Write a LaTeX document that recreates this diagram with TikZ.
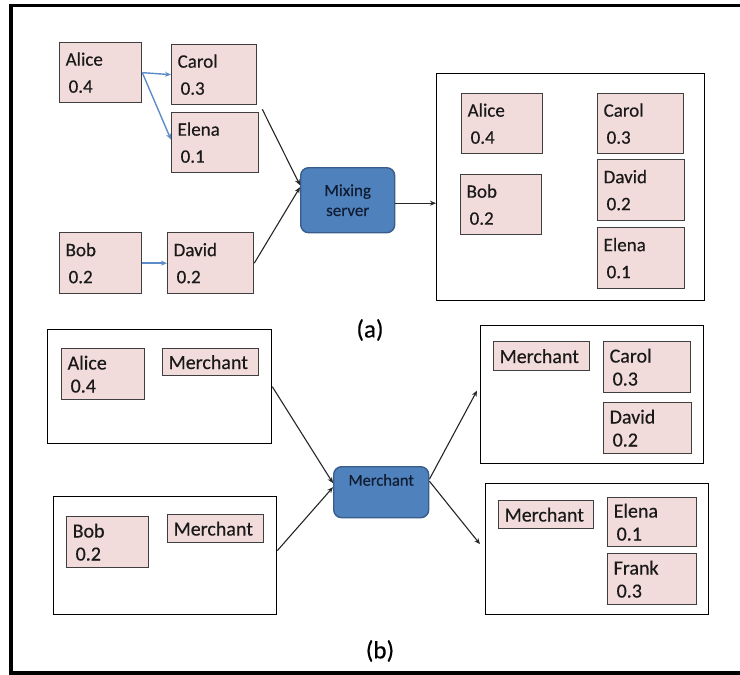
\documentclass[tikz,border=0pt]{standalone}
\usepackage{fontspec}
\setmainfont{Carlito}[FakeBold=0.35]
\usetikzlibrary{arrows.meta}
\definecolor{pinkfill}{HTML}{F2DCDB}
\definecolor{boxline}{HTML}{3F3F3F}
\definecolor{bluefill}{HTML}{4F81BD}
\definecolor{blueline}{HTML}{385D8A}
\definecolor{bluearrow}{HTML}{5B8CC8}
\definecolor{bluetext}{HTML}{111D33}
\begin{document}
\begin{tikzpicture}[x=1pt,y=-1pt,
  pb/.style={draw=boxline, fill=pinkfill, line width=1.3pt, anchor=north west,
    align=left, inner xsep=6pt, inner ysep=0pt, text=black!90},
  topfont/.style={font=\fontsize{19}{27}\selectfont},
  botfont/.style={font=\fontsize{20}{23}\selectfont},
  cont/.style={draw=black, line width=1.3pt, anchor=north west, inner sep=0pt},
  srv/.style={draw=blueline, fill=bluefill, line width=1.4pt, rounded corners=8pt,
    anchor=north west, align=center, inner sep=0pt, text=bluetext},
  barrow/.style={draw=black!85, line width=1.1pt, -{Stealth[length=6pt,width=5pt]}},
  blarrow/.style={draw=bluearrow, line width=1.4pt, -{Stealth[length=6pt,width=5pt]}},
  lab/.style={font=\fontsize{25}{28}\selectfont, text=black}]
\useasboundingbox (0,0) rectangle (740,675);
% outer frame (open on the right)
\draw[line width=3.5pt] (740,5.5) -- (11,5.5) -- (11,673) -- (740,673);

% ---------- (a) ----------
\node[pb, topfont, text width=70pt, minimum height=60pt] (alice) at (59,42) {Alice\\\hspace*{3pt}0.4};
\node[pb, topfont, text width=73pt, minimum height=60pt] (carol) at (171,44) {Carol\\\hspace*{3pt}0.3};
\node[pb, topfont, text width=75pt, minimum height=60pt] (elena) at (171,112) {Elena\\\hspace*{3pt}0.1};
\node[pb, topfont, text width=70pt, minimum height=61pt] (bob) at (59,232) {Bob\\\hspace*{3pt}0.2};
\node[pb, topfont, text width=74pt, minimum height=61pt] (david) at (167,232) {David\\\hspace*{3pt}0.2};
\node[srv, minimum width=94pt, minimum height=65pt, font=\fontsize{17}{20}\selectfont] (mix) at (300,167) {Mixing\\server};
\node[cont, minimum width=268pt, minimum height=227pt] (out) at (436,73) {};
\node[pb, topfont, text width=69pt, minimum height=60pt] (oalice) at (461,93) {Alice\\\hspace*{3pt}0.4};
\node[pb, topfont, text width=69pt, minimum height=60pt] (obob) at (460,174) {Bob\\\hspace*{3pt}0.2};
\node[pb, topfont, text width=74pt, minimum height=60pt] (ocarol) at (597,93) {Carol\\\hspace*{3pt}0.3};
\node[pb, topfont, text width=75pt, minimum height=61pt] (odavid) at (597,159) {David\\\hspace*{3pt}0.2};
\node[pb, topfont, text width=75pt, minimum height=61pt] (oelena) at (597,227) {Elena\\\hspace*{3pt}0.1};
\node[lab] (la) at (370,330) {(a)};

\draw[blarrow] (alice.east) -- (carol.west);
\draw[blarrow] (alice.east) -- ([yshift=3pt]elena.west);
\draw[blarrow] (bob.east) -- (david.west);
\draw[barrow] ([xshift=5pt,yshift=-4pt]carol.south east) -- ([yshift=15pt]mix.west);
\draw[barrow] (david.east) -- ([yshift=13pt]mix.west);
\draw[barrow] ([yshift=-3pt]mix.east) -- ([yshift=-3pt]mix.east -| out.west);

% ---------- (b) ----------
\node[cont, minimum width=224pt, minimum height=114pt] (b1) at (47,329) {};
\node[pb, botfont, text width=71pt, minimum height=51pt] (b1alice) at (61,348) {Alice\\\hspace*{3pt}0.4};
\node[pb, botfont, text width=84pt, minimum height=27pt] (b1merch) at (162,348) {Merchant};
\node[cont, minimum width=223pt, minimum height=118pt] (b2) at (53,496) {};
\node[pb, botfont, text width=70pt, minimum height=51pt] (b2bob) at (66,516) {Bob\\\hspace*{3pt}0.2};
\node[pb, botfont, text width=84pt, minimum height=28pt] (b2merch) at (167,514) {Merchant};
\node[srv, minimum width=95pt, text height=19pt, text depth=32pt, font=\fontsize{16.5}{19}\selectfont] (merch) at (333,466) {Merchant};
\node[cont, minimum width=223pt, minimum height=138pt] (b3) at (480,325) {};
\node[pb, botfont, text width=84pt, minimum height=29pt] (b3merch) at (493,341) {Merchant};
\node[pb, botfont, text width=75pt, minimum height=51pt] (b3carol) at (603,341) {Carol\\\hspace*{3pt}0.3};
\node[pb, botfont, text width=76pt, minimum height=51pt] (b3david) at (603,402) {David\\\hspace*{3pt}0.2};
\node[cont, minimum width=223pt, minimum height=131pt] (b4) at (485,483) {};
\node[pb, botfont, text width=83pt, minimum height=28pt] (b4merch) at (498,500) {Merchant};
\node[pb, botfont, text width=77pt, minimum height=49pt] (b4elena) at (607,497) {Elena\\\hspace*{3pt}0.1};
\node[pb, botfont, text width=77pt, minimum height=51pt] (b4frank) at (607,553) {Frank\\\hspace*{3pt}0.3};
\node[lab] (lb) at (380,651) {(b)};

\draw[barrow] (b1.east) -- ([yshift=9pt]merch.west);
\draw[barrow] ([yshift=5pt]b2.east) -- ([yshift=5pt]merch.west);
\draw[barrow] ([yshift=13pt]merch.east) -- ([xshift=-3pt,yshift=4pt]b3.west);
\draw[barrow] ([yshift=11pt]merch.east) -- ([xshift=-5pt,yshift=5pt]b4.west);
\end{tikzpicture}
\end{document}
